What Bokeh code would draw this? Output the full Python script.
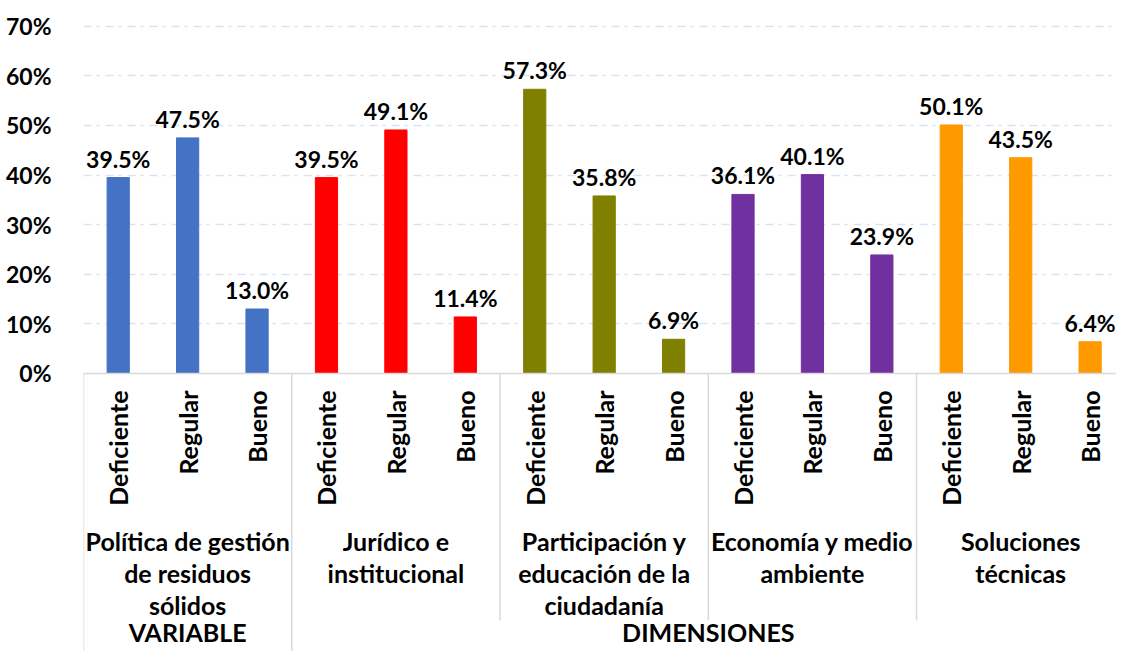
import math
from bokeh.plotting import figure
from bokeh.models import Range1d, FixedTicker, NumeralTickFormatter, ColumnDataSource
from bokeh.core.properties import value
from bokeh.embed import file_html
from bokeh.resources import INLINE

# ---- data ----
groups = ["Política de gestión\nde residuos\nsólidos",
          "Jurídico e\ninstitucional",
          "Participación y\neducación de la\nciudadanía",
          "Economía y medio\nambiente",
          "Soluciones\ntécnicas"]
levels = ["Deficiente", "Regular", "Bueno"]
values_politica = [0.395, 0.475, 0.130]
values_juridico = [0.395, 0.491, 0.114]
values_participacion = [0.573, 0.358, 0.069]
values_economia = [0.361, 0.401, 0.239]
values_soluciones = [0.501, 0.435, 0.064]
group_colors = ["#4472C4", "#FF0000", "#808000", "#7030A0", "#FF9900"]
top_labels = ["VARIABLE", "DIMENSIONES"]
top_spans = [(0, 1), (1, 5)]  # group index ranges
y_ticks = [0.0, 0.1, 0.2, 0.3, 0.4, 0.5, 0.6, 0.7]

all_values = [values_politica, values_juridico, values_participacion,
              values_economia, values_soluciones]

FONT = "Lato"
FS_NUM = "23px"
FS_CAT = "25px"
n_lv = len(levels)

# ---- figure ----
p = figure(width=1116, height=651, output_backend="svg", toolbar_location=None,
           x_range=Range1d(0, 14.88), y_range=Range1d(-0.5605, 0.752),
           min_border_left=83, min_border_right=0, min_border_top=0, min_border_bottom=0)
p.outline_line_color = None
p.xaxis.visible = False
p.xgrid.visible = False

p.yaxis.ticker = FixedTicker(ticks=y_ticks)
p.yaxis.formatter = NumeralTickFormatter(format="0%")
p.yaxis.axis_line_color = None
p.yaxis.major_tick_line_color = None
p.yaxis.minor_tick_line_color = None
p.yaxis.major_label_standoff = 26
p.yaxis.major_label_text_font = FONT
p.yaxis.major_label_text_font_style = "bold"
p.yaxis.major_label_text_font_size = FS_NUM
p.yaxis.major_label_text_color = "#000000"

p.ygrid.ticker = FixedTicker(ticks=[t for t in y_ticks if t > 0])
p.ygrid.grid_line_color = "#D9E2F3"
p.ygrid.grid_line_width = 1.5
p.ygrid.grid_line_dash = "8 5 3 6"

# bars
xs, tops, cols, labs, sub = [], [], [], [], []
for gi, vals in enumerate(all_values):
    for li, v in enumerate(vals):
        xs.append(gi * n_lv + li + 0.5)
        tops.append(v)
        cols.append(group_colors[gi])
        labs.append(f"{v*100:.1f}%")
        sub.append(levels[li])
src = ColumnDataSource(dict(x=xs, top=tops, color=cols, lab=labs, sub=sub))

p.vbar(x="x", top="top", bottom=0, width=0.32, color="color", source=src)

# zero axis line
p.segment(x0=[0], y0=[0], x1=[len(groups) * n_lv], y1=[0], line_color="#D9D9D9", line_width=1.5)

# separators
y_bottom = p.y_range.start
sep_x, sep_y1 = [], []
for gi in range(len(groups) + 1):
    sep_x.append(gi * n_lv)
    is_top = any(gi == a or gi == b for a, b in top_spans)
    sep_y1.append(y_bottom if is_top else -0.498)
p.segment(x0=sep_x, y0=[0] * len(sep_x), x1=sep_x, y1=sep_y1,
          line_color="#D9D9D9", line_width=1.5)

# value labels
p.text(x="x", y="top", text="lab", source=src, text_align="center",
       text_baseline="alphabetic", y_offset=-19,
       text_font=value(FONT), text_font_style="bold", text_font_size=FS_NUM, text_color="#000000")

# sub-category labels (rotated)
p.text(x="x", y=-0.0343, text="sub", source=src, angle=math.pi / 2,
       text_align="right", text_baseline="middle",
       text_font=value(FONT), text_font_style="bold", text_font_size=FS_CAT, text_color="#000000")

# group labels
gx = [gi * n_lv + n_lv / 2 for gi in range(len(groups))]
p.text(x=gx, y=[-0.3065] * len(groups), text=groups, text_align="center",
       text_baseline="top", text_line_height=1.07,
       text_font=value(FONT), text_font_style="bold", text_font_size=FS_CAT, text_color="#000000")

# top level labels
tx = [(a + b) * n_lv / 2 for a, b in top_spans]
p.text(x=tx, y=[-0.522] * len(top_labels), text=top_labels, text_align="center",
       text_baseline="alphabetic",
       text_font=value(FONT), text_font_style="bold", text_font_size=FS_CAT, text_color="#000000")

open("out.html", "w").write(file_html(p, INLINE))
